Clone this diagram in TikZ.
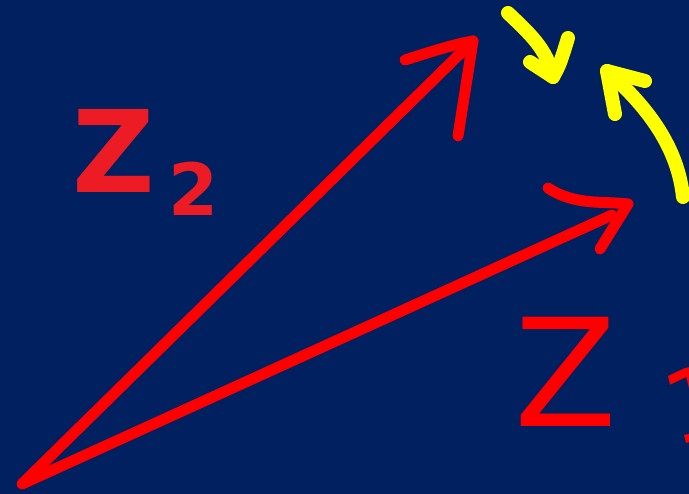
\documentclass[tikz,border=0pt]{standalone}
\usepackage{fontspec}
\newfontfamily\handfont{DejaVu Sans}
\usepackage{tikz}
\definecolor{slidebg}{HTML}{002060}
\definecolor{penred}{HTML}{FF0000}
\definecolor{zred}{HTML}{ED1C24}
\definecolor{penyellow}{HTML}{FFFF00}
\tikzset{redpen/.style={draw=penred,line width=11pt,line cap=round,line join=round},
	yellowpen/.style={draw=penyellow,line width=14pt,line cap=round,line join=round}}

\begin{document}
\begin{tikzpicture}[x=1pt,y=1pt]
	\useasboundingbox (0,0) rectangle (689,494);
	\clip (0,0) rectangle (689,494);
	\fill[slidebg] (0,0) rectangle (689,494);
	\coordinate (O) at (22,10);
	\coordinate (A) at (473,453);
	\coordinate (B) at (628,290);
	\coordinate (Bs) at (612,279);
	% the two vectors
	\draw[redpen] (A)--(O)--(Bs);
	\draw[redpen] (405,434) .. controls (430,442) and (455,450) .. (A) -- (458,358);
	\draw[redpen] (548,306) .. controls (575,288) and (605,293) .. (B) -- (600,245);
	% yellow turns
	\draw[yellowpen] (508,481) .. controls (530,460) and (547,445) .. (553,417);
	\draw[yellowpen] (530,432) -- (553,417) .. controls (560,430) .. (568,456);
	\draw[yellowpen] (683,297) .. controls (678,345) and (650,385) .. (607,423);
	\draw[yellowpen] (615,380) -- (607,423) -- (645,413);
	% labels
	\node[text=zred,inner sep=0] (z2) at (114,343) {\handfont\bfseries\fontsize{114}{114}\selectfont Z};
	\node[text=zred,inner sep=0] (z2sub) at (194,305) {\handfont\bfseries\fontsize{72}{72}\selectfont 2};
	\node[text=penred,inner sep=0] (z1) at (566,122) {\handfont\fontsize{150}{150}\selectfont Z};
	\node[text=penred,inner sep=0,anchor=north,rotate=14] (z1sub) at (688,126) {\handfont\fontsize{100}{100}\selectfont 1};
\end{tikzpicture}
\end{document}
